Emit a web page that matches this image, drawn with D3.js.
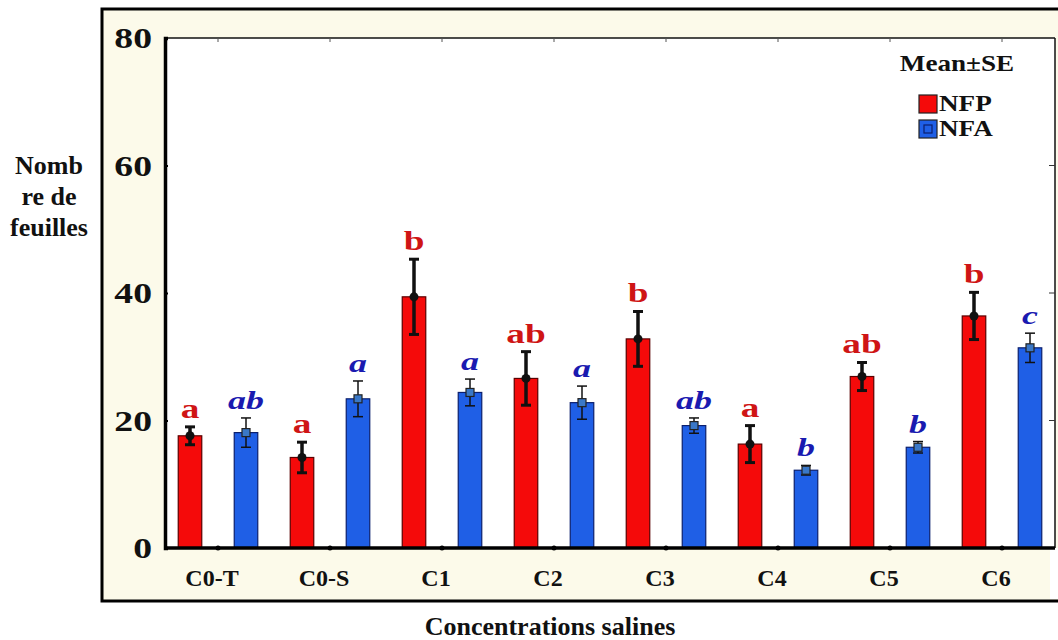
<!DOCTYPE html>
<html>
<head>
<meta charset="utf-8">
<script src="https://cdn.jsdelivr.net/npm/d3@7"></script>
<style>
  html, body { margin: 0; padding: 0; background: #ffffff; }
  svg { display: block; }
</style>
</head>
<body>
<svg id="chart" width="1058" height="640"></svg>
<script>
// Leaf counts per salt concentration (mean ± SE)
const categories = ["C0-T", "C0-S", "C1", "C2", "C3", "C4", "C5", "C6"];
const series = ["NFP", "NFA"];
const nfpMean = [17.6, 14.2, 39.4, 26.6, 32.8, 16.3, 26.9, 36.4];
const nfpSE   = [1.4, 2.4, 5.9, 4.2, 4.3, 2.9, 2.2, 3.7];
const nfaMean = [18.1, 23.4, 24.4, 22.8, 19.2, 12.2, 15.8, 31.4];
const nfaSE   = [2.3, 2.8, 2.1, 2.6, 1.2, 0.75, 0.9, 2.3];
const nfpLetters = ["a", "a", "b", "ab", "b", "a", "ab", "b"];
const nfaLetters = ["ab", "a", "a", "a", "ab", "b", "b", "c"];
const yTicks = [0, 20, 40, 60, 80];

const FONT = "'Liberation Serif', serif";

const colors = {
  NFP: { fill: "#f50a0a", stroke: "#5a0000", label: "#cf1515" },
  NFA: { fill: "#1f5fe6", stroke: "#0b1f6e", label: "#1a1ab0" }
};

const svg = d3.select("#chart")
  .style("font-family", FONT)
  .attr("font-family", FONT)
  .attr("font-weight", "bold");

// Layout
const plot = { left: 165, right: 1055, top: 38, bottom: 548 };

// Outer frame with cream background
svg.append("rect")
  .attr("x", 102).attr("y", 9).attr("width", 980).attr("height", 592)
  .attr("fill", "#fcfaea").attr("stroke", "#000").attr("stroke-width", 3);

// White plotting area
svg.append("rect")
  .attr("x", plot.left).attr("y", plot.top)
  .attr("width", plot.right - plot.left).attr("height", plot.bottom - plot.top)
  .attr("fill", "#ffffff");
// white patch right of the category band
svg.append("rect")
  .attr("x", 1050).attr("y", plot.bottom).attr("width", 10).attr("height", 51)
  .attr("fill", "#ffffff");

// Scales
const x = d3.scaleBand().domain(categories).range([162, 1058]).padding(0);
const xSub = d3.scaleBand().domain(series).range([0, x.bandwidth()])
  .paddingInner(0.58).paddingOuter(0.29);
const y = d3.scaleLinear().domain([0, 80]).range([plot.bottom, plot.top]);

// Frame lines of the plot
svg.append("line").attr("x1", plot.left).attr("x2", plot.right)
  .attr("y1", plot.top).attr("y2", plot.top)
  .attr("stroke", "#111").attr("stroke-width", 1.5);
svg.append("line").attr("x1", plot.right).attr("x2", plot.right)
  .attr("y1", plot.top).attr("y2", plot.bottom)
  .attr("stroke", "#111").attr("stroke-width", 1.5);

// Right-side minor ticks
svg.selectAll(".rtick").data(yTicks.filter(d => d > 0 && d < 80)).enter()
  .append("line").attr("class", "rtick")
  .attr("x1", plot.right - 6).attr("x2", plot.right)
  .attr("y1", d => y(d)).attr("y2", d => y(d))
  .attr("stroke", "#333").attr("stroke-width", 1);

// Top ticks at category centres
svg.selectAll(".ttick").data(categories).enter()
  .append("line").attr("class", "ttick")
  .attr("x1", d => x(d) + x.bandwidth() / 2).attr("x2", d => x(d) + x.bandwidth() / 2)
  .attr("y1", plot.top).attr("y2", plot.top + 4)
  .attr("stroke", "#555").attr("stroke-width", 1);

// Y axis
const yAxis = svg.append("g").attr("transform", `translate(${plot.left},0)`)
  .call(d3.axisRight(y).tickValues(yTicks).tickSize(3).tickFormat(""));
yAxis.attr("font-family", FONT);
yAxis.select(".domain").attr("stroke", "#000").attr("stroke-width", 3.5);
yAxis.selectAll(".tick line").attr("stroke", "#000").attr("stroke-width", 2);

svg.selectAll(".ylab").data(yTicks).enter()
  .append("text").attr("class", "ylab")
  .attr("transform", d => `translate(152,${y(d)}) scale(1.3,1)`)
  .attr("text-anchor", "end").attr("dy", "0.35em")
  .attr("font-family", FONT).attr("font-weight", "bold")
  .attr("font-size", 29).attr("fill", "#111")
  .text(d => d);

// Bars
const groups = categories.map((c, i) => ({
  cat: c,
  vals: [
    { s: "NFP", mean: nfpMean[i], se: nfpSE[i], letter: nfpLetters[i] },
    { s: "NFA", mean: nfaMean[i], se: nfaSE[i], letter: nfaLetters[i] }
  ]
}));

const g = svg.selectAll(".grp").data(groups).enter()
  .append("g").attr("class", "grp")
  .attr("transform", d => `translate(${x(d.cat)},0)`);

g.selectAll("rect.bar").data(d => d.vals).enter()
  .append("rect").attr("class", "bar")
  .attr("x", d => xSub(d.s)).attr("width", xSub.bandwidth())
  .attr("y", d => y(d.mean)).attr("height", d => y(0) - y(d.mean))
  .attr("fill", d => colors[d.s].fill)
  .attr("stroke", d => colors[d.s].stroke).attr("stroke-width", 1.2);

// Error bars
const eb = g.selectAll("g.err").data(d => d.vals).enter()
  .append("g").attr("class", "err")
  .attr("transform", d => `translate(${xSub(d.s) + xSub.bandwidth() / 2},0)`);

eb.append("line")
  .attr("x1", 0).attr("x2", 0)
  .attr("y1", d => y(d.mean + d.se)).attr("y2", d => y(d.mean - d.se))
  .attr("stroke", "#111").attr("stroke-width", d => d.s === "NFP" ? 3.5 : 1.5);
eb.selectAll("line.cap").data(d => [
    { v: d.mean + d.se, s: d.s }, { v: d.mean - d.se, s: d.s }
  ]).enter()
  .append("line").attr("class", "cap")
  .attr("x1", -5).attr("x2", 5)
  .attr("y1", d => y(d.v)).attr("y2", d => y(d.v))
  .attr("stroke", "#111").attr("stroke-width", d => d.s === "NFP" ? 3 : 1.5);

eb.filter(d => d.s === "NFP").append("circle")
  .attr("cx", 0).attr("cy", d => y(d.mean)).attr("r", 4.5)
  .attr("fill", "#111");
eb.filter(d => d.s === "NFA").append("rect")
  .attr("x", -4).attr("y", d => y(d.mean) - 4).attr("width", 8).attr("height", 8)
  .attr("fill", "#3a78c8").attr("stroke", "#222").attr("stroke-width", 1.2);

// Significance letters
eb.append("text")
  .attr("transform", d => `translate(0,${y(d.mean + d.se) - 9}) scale(1.38,1)`)
  .attr("text-anchor", "middle")
  .attr("font-family", FONT).attr("font-weight", "bold")
  .attr("font-size", d => d.s === "NFP" ? 27 : 26)
  .attr("font-style", d => d.s === "NFA" ? "italic" : "normal")
  .attr("fill", d => colors[d.s].label)
  .text(d => d.letter);

// X axis
const xAxis = svg.append("g").attr("transform", `translate(0,${plot.bottom})`)
  .call(d3.axisBottom(x).tickSize(0).tickFormat(""));
xAxis.select(".domain").attr("d", `M${plot.left},0H${plot.right}`)
  .attr("stroke", "#000").attr("stroke-width", 3.5);
svg.selectAll(".xdot").data(categories).enter()
  .append("circle").attr("class", "xdot")
  .attr("cx", d => x(d) + x.bandwidth() / 2).attr("cy", plot.bottom).attr("r", 2.5)
  .attr("fill", "#000");

svg.selectAll(".xlab").data(categories).enter()
  .append("text").attr("class", "xlab")
  .attr("x", d => x(d) + x.bandwidth() / 2 - 6).attr("y", 586)
  .attr("text-anchor", "middle")
  .attr("font-family", FONT).attr("font-weight", "bold")
  .attr("font-size", 24).attr("fill", "#111")
  .text(d => d);

// Legend
const legend = svg.append("g");
legend.append("text")
  .attr("transform", "translate(957,71) scale(1.18,1)")
  .attr("text-anchor", "middle")
  .attr("font-family", FONT).attr("font-weight", "bold")
  .attr("font-size", 23).attr("fill", "#111")
  .text("Mean±SE");
const li = legend.selectAll(".li").data(series).enter()
  .append("g").attr("class", "li")
  .attr("transform", (d, i) => `translate(919,${95 + i * 25})`);
li.append("rect").attr("width", 18).attr("height", 18)
  .attr("fill", d => colors[d].fill).attr("stroke", "#222").attr("stroke-width", 1.2);
li.filter(d => d === "NFA").append("rect")
  .attr("x", 5).attr("y", 5).attr("width", 8).attr("height", 8)
  .attr("fill", "none").attr("stroke", "#0b1f6e").attr("stroke-width", 1.2);
li.append("text")
  .attr("transform", "translate(20,16) scale(1.18,1)")
  .attr("font-family", FONT).attr("font-weight", "bold")
  .attr("font-size", 23).attr("fill", "#111")
  .text(d => d);

// Axis titles
svg.append("text")
  .attr("x", 550).attr("y", 635).attr("text-anchor", "middle")
  .attr("font-family", FONT).attr("font-weight", "bold")
  .attr("font-size", 26).attr("fill", "#111")
  .text("Concentrations salines");

const yTitle = ["Nomb", "re de", "feuilles"];
svg.selectAll(".ytitle").data(yTitle).enter()
  .append("text").attr("class", "ytitle")
  .attr("x", 49).attr("y", (d, i) => 174 + i * 31)
  .attr("text-anchor", "middle")
  .attr("font-family", FONT).attr("font-weight", "bold")
  .attr("font-size", 26).attr("fill", "#111")
  .text(d => d);
</script>
</body>
</html>
